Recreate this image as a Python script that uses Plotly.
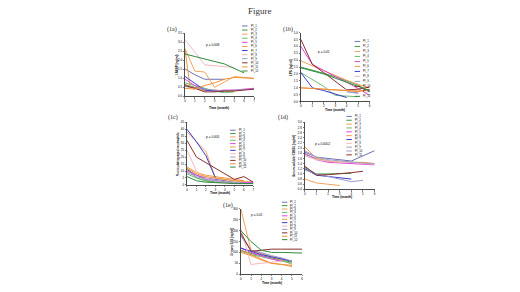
import plotly.graph_objects as go

W, H = 520, 292
NAMES = [f"PI_{i}" for i in range(1, 13)]
COLORS = ["#6f6fb5", "#3f9a45", "#f4a25a", "#6fb874", "#e444e0", "#f3994a",
          "#3a3ad0", "#f5b7c0", "#9c9cca", "#8a2f2f", "#f39136", "#2f8a3c"]
D_COLORS = ["#6f6fb5", "#3f9a45", "#f4a25a", "#6fb874", "#e444e0", "#f3994a",
            "#3a3ad0", "#f5b7c0", "#9c9cca", "#a0a0c8", "#8a2f2f"]

# ---- (1a) I-FABP ----
A_MONTHS = [0, 0.5, 1, 2, 3, 4, 5, 6, 7]
A_TICKS = ["0", "1", "2", "3", "4", "5", "6", "7"]
A_VALUES = {
    "PI_1": [1.52, None, 1.2, 0.95, 0.95, 0.95, None, None, None],
    "PI_2": [0.65, None, 0.5, 0.4, 0.3, 0.3, 0.3, None, None],
    "PI_3": [2.65, None, 1.4, 1.35, 0.5, 0.8, 1.1, None, 1.0],
    "PI_4": [0.75, None, 0.6, 0.45, 0.3, 0.2, 0.25, None, None],
    "PI_5": [0.95, None, 0.6, 0.35, 0.3, 0.35, 0.35, None, 0.45],
    "PI_6": [2.65, 0.55, None, 0.3, 0.35, 0.3, 0.3, None, None],
    "PI_7": [1.1, None, 0.75, 0.35, 0.3, 0.3, None, None, None],
    "PI_8": [3.15, None, None, 1.75, 1.7, 1.65, 1.6, None, None],
    "PI_9": [0.55, None, 0.45, 0.4, 0.35, 0.3, 0.35, None, 0.4],
    "PI_10": [0.6, None, 0.45, 0.25, 0.25, 0.3, 0.3, None, 0.4],
    "PI_11": [0.45, None, 0.4, 0.6, 0.75, 0.95, 1.05, None, 1.0],
    "PI_12": [2.35, None, None, None, None, 1.8, None, 1.3, None],
}

# ---- (1b) LPS ----
B_MONTHS = [0, 1, 2, 3, 4, 5, 6]
B_TICKS = ["0", "1", "2", "3", "4", "5", "6"]
B_VALUES = {
    "PI_1": [None, None, None, None, 0.8, 0.62, None],
    "PI_2": [2.5, 2.3, 2.05, 1.8, 1.5, 1.2, 0.7],
    "PI_3": [2.95, 2.6, 2.2, 1.85, 1.55, 1.25, 1.0],
    "PI_4": [2.1, 1.6, 1.1, 0.45, 0.42, 0.35, None],
    "PI_5": [4.0, 2.7, 2.25, 1.85, 1.4, 0.95, 0.45],
    "PI_6": [1.0, 0.95, 0.9, 0.85, 0.8, 0.75, 0.85],
    "PI_7": [2.1, 1.0, 0.8, 0.55, 0.3, None, None],
    "PI_8": [None, None, None, None, 0.75, 0.7, None],
    "PI_9": [None, None, None, None, 0.7, 0.6, None],
    "PI_10": [4.5, 2.7, 2.1, 1.5, 0.85, 0.9, 1.05],
    "PI_11": [1.0, 0.95, 0.9, 0.8, 0.75, 0.75, 0.9],
    "PI_12": [2.45, 2.25, 2.0, 1.7, 1.4, 1.15, 0.8],
}

# ---- (1c) aged neutrophils ----
C_MONTHS = [0, 1, 2, 3, 4, 5, 6, 7]
C_TICKS = ["0", "1", "2", "3", "4", "5", "6", "7"]
C_VALUES = {
    "PI_1": [11, 7, 5, 4, 3, 2, None, 2],
    "PI_2": [12, 5, 3, 2, 2, 1, None, 1],
    "PI_3": [38, 31, 24, 5, 4, 3, None, 2],
    "PI_4": [8, 5, 3, 2, 2, 1, None, None],
    "PI_5": [10, 7, 4, 3, 2, 1, None, 2],
    "PI_6": [13, 9, 7, 6, 5, 4, 3, None],
    "PI_7": [40, 31, 21, 5, None, None, None, None],
    "PI_8": [25, 10, 5, 3, 2, 2, None, None],
    "PI_9": [9, 6, 4, 3, 2, 1.5, None, 1],
    "PI_10": [32, 20, 16, 12, 8, 4, 6, 2],
    "PI_11": [12, 8, 6, 5, 4, 3, 3, None],
    "PI_12": [6, 3, 2, 1.5, 1, 1, None, 1],
}

# ---- (1d) soluble CD62L ----
D_MONTHS = [0, 1, 2, 3, 4, 5, 6]
D_TICKS = ["0", "1", "2", "3", "4", "5", "6"]
D_VALUES = {
    "PI_1": [1.85, 1.65, 1.6, 1.55, 1.5, 1.7, 1.9],
    "PI_2": [1.25, 1.0, 1.0, 1.0, 1.02, None, None],
    "PI_3": [0.8, 0.65, 0.6, 0.55, None, None, None],
    "PI_4": [1.75, 1.6, 1.5, 1.45, 1.45, 1.42, 1.4],
    "PI_5": [1.8, 1.55, 1.45, 1.42, 1.4, 1.38, 1.35],
    "PI_6": [2.05, 1.6, 1.5, 1.45, 1.45, 1.45, 1.4],
    "PI_7": [1.2, 0.95, 0.9, 0.85, 0.8, None, None],
    "PI_8": [1.7, 1.55, 1.5, 1.45, 1.45, 1.4, 1.38],
    "PI_9": [1.15, 1.0, 0.9, 0.8, 0.7, 0.75, None],
    "PI_10": [1.9, 1.65, 1.55, 1.5, 1.45, 1.42, 1.4],
    "PI_11": [1.3, 0.95, 0.97, 1.0, 1.05, 1.1, None],
}

# ---- (1e) urinary ----
E_MONTHS = [0, 1, 2, 3, 4, 5, 6]
E_TICKS = ["0", "1", "2", "3", "4", "5", "6"]
E_VALUES = {
    "PI_1": [180, 110, 95, 80, 70, 60, None],
    "PI_2": [110, 95, 85, 75, 65, 55, None],
    "PI_3": [300, 110, 95, 80, 65, 45, None],
    "PI_4": [105, 90, 80, 70, 60, 50, None],
    "PI_5": [120, 100, 85, 70, 60, None, None],
    "PI_6": [100, 85, 65, 50, 45, 35, None],
    "PI_7": [120, 105, 90, 80, 70, 60, None],
    "PI_8": [210, 45, 50, 55, 60, None, None],
    "PI_9": [175, 110, 100, 85, 75, 60, None],
    "PI_10": [190, 105, 110, 115, 115, 115, 115],
    "PI_11": [110, 90, 70, 50, 45, 40, None],
    "PI_12": [200, 150, 110, 100, 100, 98, 97],
}


def fx(px):
    return px / W


def fy(py):
    return 1 - py / H


FONT = "Liberation Sans, Arial, sans-serif"

# panel geometry in page pixels: (x0, x1, ytop, ybottom)
PANELS = [
    dict(key="", months=A_MONTHS, vals=A_VALUES, colors=COLORS, ticks=A_TICKS,
         xr=[0, 7], yr=[0, 3.5], dy=0.5, fmt=".1f", box=(184.7, 254, 31.7, 95.7),
         label="(1a)", lab_xy=(172, 28), ytitle="I-FABP (ng/ml)", yt_x=177,
         xt_xy=(219, 107), p="p = 0.008", p_xy=(213, 44),
         leg=(242, 24.3, 4.15)),
    dict(key="2", months=B_MONTHS, vals=B_VALUES, colors=COLORS, ticks=B_TICKS,
         xr=[0, 6], yr=[0, 5], dy=0.5, fmt=".1f", box=(301, 370, 31, 101),
         label="(1b)", lab_xy=(288, 28), ytitle="LPS (ng/ml)", yt_x=291,
         xt_xy=(335, 110), p="p = 0.01", p_xy=(324, 51),
         leg=(355, 40, 5.06)),
    dict(key="3", months=C_MONTHS, vals=C_VALUES, colors=COLORS, ticks=C_TICKS,
         xr=[0, 7], yr=[0, 45], dy=5, fmt="d", box=(186.7, 253.3, 122, 185.5),
         label="(1c)", lab_xy=(173, 117), ytitle="% circulating aged neutrophils", yt_x=177,
         xt_xy=(220, 194), p="p = 0.005", p_xy=(213, 137),
         leg=(230, 130, 3.4)),
    dict(key="4", months=D_MONTHS, vals=D_VALUES, colors=D_COLORS, ticks=D_TICKS,
         xr=[0, 6], yr=[0.4, 3.0], dy=0.2, fmt=".1f", box=(305, 375, 122, 190),
         label="(1d)", lab_xy=(283, 117), ytitle="Serum soluble CD62L (ng/ml)", yt_x=294,
         xt_xy=(342, 198), p="p = 0.0002", p_xy=(323, 144),
         leg=(346.7, 116, 3.9)),
    dict(key="5", months=E_MONTHS, vals=E_VALUES, colors=COLORS, ticks=E_TICKS,
         xr=[0, 6], yr=[0, 300], dy=50, fmt="d", box=(240.7, 302.3, 209.7, 276),
         label="(1e)", lab_xy=(228, 206), ytitle="Urinary 3-IS (ng/ml)", yt_x=231,
         xt_xy=(272, 284.5), p="p = 0.01", p_xy=(257, 216),
         leg=(282, 203, 3.45)),
]

fig = go.Figure()
shapes = []
annotations = []
layout = {}


def note(text, px, py, size, family=FONT, color="black", xanchor="center", angle=0):
    annotations.append(dict(text=text, x=fx(px), y=fy(py), xref="paper", yref="paper",
                            showarrow=False, xanchor=xanchor, yanchor="middle",
                            textangle=angle, font=dict(size=size, family=family, color=color)))


for pnl in PANELS:
    k = pnl["key"]
    x0, x1, yt, yb = pnl["box"]
    for i, (name, vals) in enumerate(pnl["vals"].items()):
        fig.add_trace(go.Scatter(
            x=pnl["months"], y=vals, mode="lines", name=name, connectgaps=True,
            line=dict(color=pnl["colors"][i], width=1.0), showlegend=False,
            xaxis="x" + k, yaxis="y" + k, hoverinfo="skip"))
    axis_common = dict(showline=True, linecolor="black", linewidth=0.7,
                       ticks="outside", ticklen=1.5, tickwidth=0.5, tickcolor="black",
                       showgrid=False, zeroline=False,
                       tickfont=dict(size=3.0, family=FONT, color="black"))
    layout["xaxis" + k] = dict(axis_common, domain=[fx(x0), fx(x1)], range=pnl["xr"],
                               anchor="y" + k, tickmode="array",
                               tickvals=list(range(len(pnl["ticks"]))),
                               ticktext=pnl["ticks"], tickangle=0)
    layout["yaxis" + k] = dict(axis_common, domain=[fy(yb), fy(yt)], range=pnl["yr"],
                               anchor="x" + k, dtick=pnl["dy"], tick0=pnl["yr"][0],
                               tickformat=pnl["fmt"])
    note(pnl["label"], *pnl["lab_xy"], 6, family="Liberation Serif, serif", color="#222")
    note("<b>" + pnl["ytitle"] + "</b>", pnl["yt_x"], (yt + yb) / 2, 3.0, angle=-90)
    note("<b>Time (month)</b>", *pnl["xt_xy"], 3.2)
    note(pnl["p"], *pnl["p_xy"], 3.2)
    lx, ly, step = pnl["leg"]
    for i, name in enumerate(pnl["vals"].keys()):
        yy = ly + i * step
        shapes.append(dict(type="line", xref="paper", yref="paper",
                           x0=fx(lx), x1=fx(lx + 5.5), y0=fy(yy), y1=fy(yy),
                           line=dict(color=pnl["colors"][i], width=1.0)))
        note(name, lx + 6.5, yy, 2.8, xanchor="left")

note("Figure", 260, 9.5, 9, family="Liberation Serif, serif", color="#333")

fig.update_layout(
    width=W, height=H, margin=dict(l=0, r=0, t=0, b=0),
    paper_bgcolor="white", plot_bgcolor="white", hovermode=False,
    showlegend=False, shapes=shapes, annotations=annotations, **layout)

fig.write_html("out.html", config={"displayModeBar": False, "staticPlot": True},
               post_script="document.body.style.margin='0';document.body.style.overflow='hidden';")
